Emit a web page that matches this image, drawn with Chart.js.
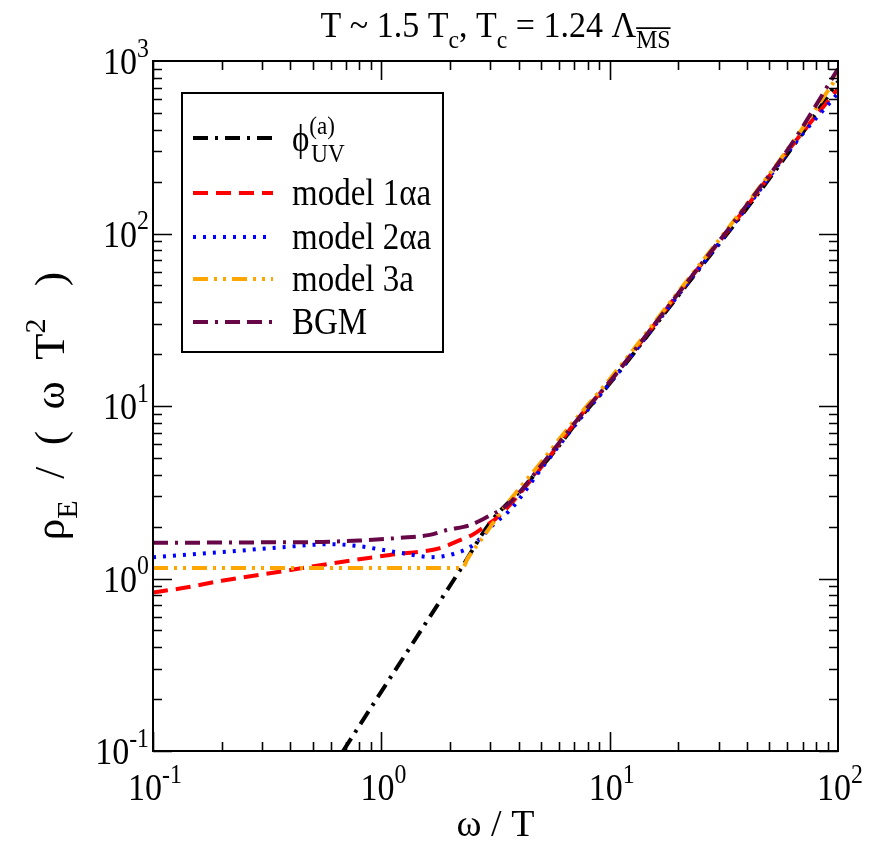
<!DOCTYPE html>
<html>
<head>
<meta charset="utf-8">
<script src="https://cdn.jsdelivr.net/npm/chart.js@4.4.1/dist/chart.umd.min.js"></script>
<style>
  html, body { margin: 0; padding: 0; background: #fff; }
</style>
</head>
<body>
<canvas id="spec" width="878" height="841"></canvas>
<script>
// omega / T values and rho_E / (omega T^2) for each curve
const uvX = [0.68, 1.0, 1.58, 2.26, 2.99, 4.17, 5.89, 7.41, 10, 20, 41.2, 63.1, 100];
const uvY = [0.100, 0.221, 0.562, 1.17, 2.10, 3.35, 5.71, 8.51, 13.5, 43.7, 148, 316, 760];

const m1X = [0.1, 0.135, 0.2, 0.4, 0.6, 1.09, 1.81, 2.21, 2.52, 2.76, 3.31, 5, 7.41, 10, 20, 41.2, 63.1, 100];
const m1Y = [0.83, 0.88, 0.97, 1.12, 1.22, 1.37, 1.50, 1.67, 1.80, 1.95, 2.33, 4.4, 8.7, 13.8, 45, 152, 325, 690];

const m2X = [0.1, 0.24, 0.37, 0.6, 0.8, 1.0, 1.21, 1.68, 2.15, 2.52, 3.08, 3.73, 5, 7.41, 10, 20, 41.2, 63.1, 100];
const m2Y = [1.33, 1.45, 1.52, 1.58, 1.54, 1.47, 1.41, 1.33, 1.41, 1.56, 2.04, 2.56, 4.3, 8.4, 13.5, 44, 150, 320, 650];

const m3X = [0.1, 1.0, 2.26, 2.4, 2.71, 3.66, 5, 6.5, 10, 20, 41.2, 63.1, 100];
const m3Y = [1.15, 1.15, 1.15, 1.32, 1.65, 2.85, 4.7, 7.3, 14.3, 46, 157, 335, 820];

const bgmX = [0.1, 0.3, 0.55, 0.8, 1.21, 1.63, 1.94, 2.45, 2.9, 3.6, 5, 7.41, 10, 20, 41.2, 63.1, 100];
const bgmY = [1.61, 1.62, 1.63, 1.66, 1.72, 1.79, 1.91, 2.04, 2.27, 2.70, 4.5, 8.7, 13.8, 45, 155, 335, 900];

const xMajor = [0.1, 1, 10, 100];
const xExp = ["-1", "0", "1", "2"];
const yMajor = [0.1, 1, 10, 100, 1000];
const yExp = ["-1", "0", "1", "2", "3"];

const FONT = '"Liberation Serif", "Times New Roman", serif';
const SY = 1.12; // glyphs in the reference are taller than wide

function pts(xs, ys) {
  return xs.map((x, i) => ({ x, y: ys[i] }));
}

const series = [
  { label: "uv", x: uvX, y: uvY, color: "#000000", dash: [15, 7, 3, 7], order: 5 },
  { label: "model 1αa", x: m1X, y: m1Y, color: "#ff0000", dash: [15, 8], order: 4 },
  { label: "model 2αa", x: m2X, y: m2Y, color: "#0000ff", dash: [3, 7], order: 3 },
  { label: "model 3a", x: m3X, y: m3Y, color: "#ffa500", dash: [15, 6, 3, 6, 3, 6], order: 2 },
  { label: "BGM", x: bgmX, y: bgmY, color: "#670748", dash: [15, 7, 3, 7, 15, 7], order: 1 }
];

// legend text parts: [text, kind] kind 0 normal, 1 sub, 2 sup, 3 sub with overline
const legendParts = [
  [["ϕ", 0], ["(a)", 2, "UV"]],
  [["model 1αa", 0]],
  [["model 2αa", 0]],
  [["model 3a", 0]],
  [["BGM", 0]]
];

function drawRich(ctx, parts, x, y, size, align, sy = SY) {
  ctx.save();
  ctx.translate(x, y);
  ctx.scale(1, sy);
  const items = parts.map(p => {
    const fs = p[1] ? size * 0.7 : size;
    ctx.font = fs + "px " + FONT;
    let w = ctx.measureText(p[0]).width;
    if (p[2]) w = Math.max(w, ctx.measureText(p[2]).width + 2);
    return { t: p[0], k: p[1], extra: p[2], fs, w };
  });
  const total = items.reduce((a, b) => a + b.w, 0);
  let cx = align === "center" ? -total / 2 : align === "right" ? -total : 0;
  ctx.textBaseline = "alphabetic";
  ctx.textAlign = "left";
  ctx.fillStyle = "#000";
  for (const it of items) {
    ctx.font = it.fs + "px " + FONT;
    let dy = 0;
    if (it.k === 1 || it.k === 3) dy = size * 0.3;
    if (it.k === 2) dy = -size * 0.45;
    ctx.fillText(it.t, cx, dy);
    if (it.extra) ctx.fillText(it.extra, cx + 2, size * 0.3);
    if (it.k === 3) {
      ctx.lineWidth = 1.5;
      ctx.strokeStyle = "#000";
      ctx.beginPath();
      ctx.moveTo(cx, dy - it.fs * 0.78);
      ctx.lineTo(cx + it.w, dy - it.fs * 0.78);
      ctx.stroke();
    }
    cx += it.w;
  }
  ctx.restore();
  return total;
}

const decor = {
  id: "decor",
  afterDraw(chart) {
    const ctx = chart.ctx;
    const { left, right, top, bottom } = chart.chartArea;
    const xs = chart.scales.x, ys = chart.scales.y;

    ctx.save();
    ctx.strokeStyle = "#000";
    ctx.lineWidth = 2;
    ctx.setLineDash([]);
    ctx.strokeRect(left, top, right - left, bottom - top);

    // inward ticks on all four sides
    ctx.lineWidth = 1.6;
    ctx.beginPath();
    for (let d = -1; d <= 1; d++) {
      for (let k = 1; k <= 9; k++) {
        const px = Math.round(xs.getPixelForValue(k * Math.pow(10, d))) + 0.5;
        const len = k === 1 ? 19 : 9;
        ctx.moveTo(px, bottom); ctx.lineTo(px, bottom - len);
        ctx.moveTo(px, top); ctx.lineTo(px, top + len);
      }
    }
    for (let d = -1; d <= 2; d++) {
      for (let k = 1; k <= 9; k++) {
        const py = Math.round(ys.getPixelForValue(k * Math.pow(10, d))) + 0.5;
        const len = k === 1 ? 19 : 9;
        ctx.moveTo(left, py); ctx.lineTo(left + len, py);
        ctx.moveTo(right, py); ctx.lineTo(right - len, py);
      }
    }
    ctx.stroke();

    // tick labels
    xMajor.forEach((v, i) => {
      drawRich(ctx, [["10", 0], [xExp[i], 2]], xs.getPixelForValue(v) + 2, bottom + 49, 34, "center");
    });
    yMajor.forEach((v, i) => {
      drawRich(ctx, [["10", 0], [yExp[i], 2]], left - 4, ys.getPixelForValue(v) + 13, 34, "right");
    });

    // axis titles
    drawRich(ctx, [["ω / T", 0]], (left + right) / 2, 836, 38, "center", 1.02);
    ctx.save();
    ctx.translate(64, (top + bottom) / 2);
    ctx.rotate(-Math.PI / 2);
    drawRich(ctx, [["ρ", 0], ["E", 1], ["  /  (  ω  T", 0], ["2", 2], ["   )", 0]], 0, 0, 43, "center", 1.0);
    ctx.restore();

    // title
    drawRich(ctx, [["T ~ 1.5 T", 0], ["c", 1], [", T", 0], ["c", 1], [" = 1.24 Λ", 0], ["MS", 3]],
      (left + right) / 2, 37, 34, "center", 1.06);

    // legend box
    ctx.lineWidth = 2;
    ctx.strokeStyle = "#000";
    ctx.fillStyle = "#fff";
    ctx.fillRect(182, 93, 261, 259);
    ctx.strokeRect(182, 93, 261, 259);
    const rows = [138, 193, 237, 279, 322];
    series.forEach((s, i) => {
      ctx.save();
      ctx.strokeStyle = s.color;
      ctx.lineWidth = 4;
      ctx.setLineDash(s.dash);
      ctx.beginPath();
      ctx.moveTo(193, rows[i]);
      ctx.lineTo(273, rows[i]);
      ctx.stroke();
      ctx.restore();
      drawRich(ctx, legendParts[i], 292, rows[i] + (i === 0 ? 13 : 12), 33, "left");
    });
    ctx.restore();
  }
};

new Chart(document.getElementById("spec").getContext("2d"), {
  type: "line",
  data: {
    datasets: series.map(s => ({
      label: s.label,
      data: pts(s.x, s.y),
      borderColor: s.color,
      borderWidth: 4,
      borderDash: s.dash,
      pointRadius: 0,
      fill: false,
      cubicInterpolationMode: "monotone",
      order: s.order
    }))
  },
  options: {
    responsive: false,
    animation: false,
    devicePixelRatio: 1,
    layout: { padding: { left: 153, right: 40, top: 61, bottom: 90 } },
    plugins: { legend: { display: false }, tooltip: { enabled: false }, title: { display: false } },
    scales: {
      x: { type: "logarithmic", min: 0.1, max: 100, display: false },
      y: { type: "logarithmic", min: 0.1, max: 1000, display: false }
    }
  },
  plugins: [decor]
});
</script>
</body>
</html>
